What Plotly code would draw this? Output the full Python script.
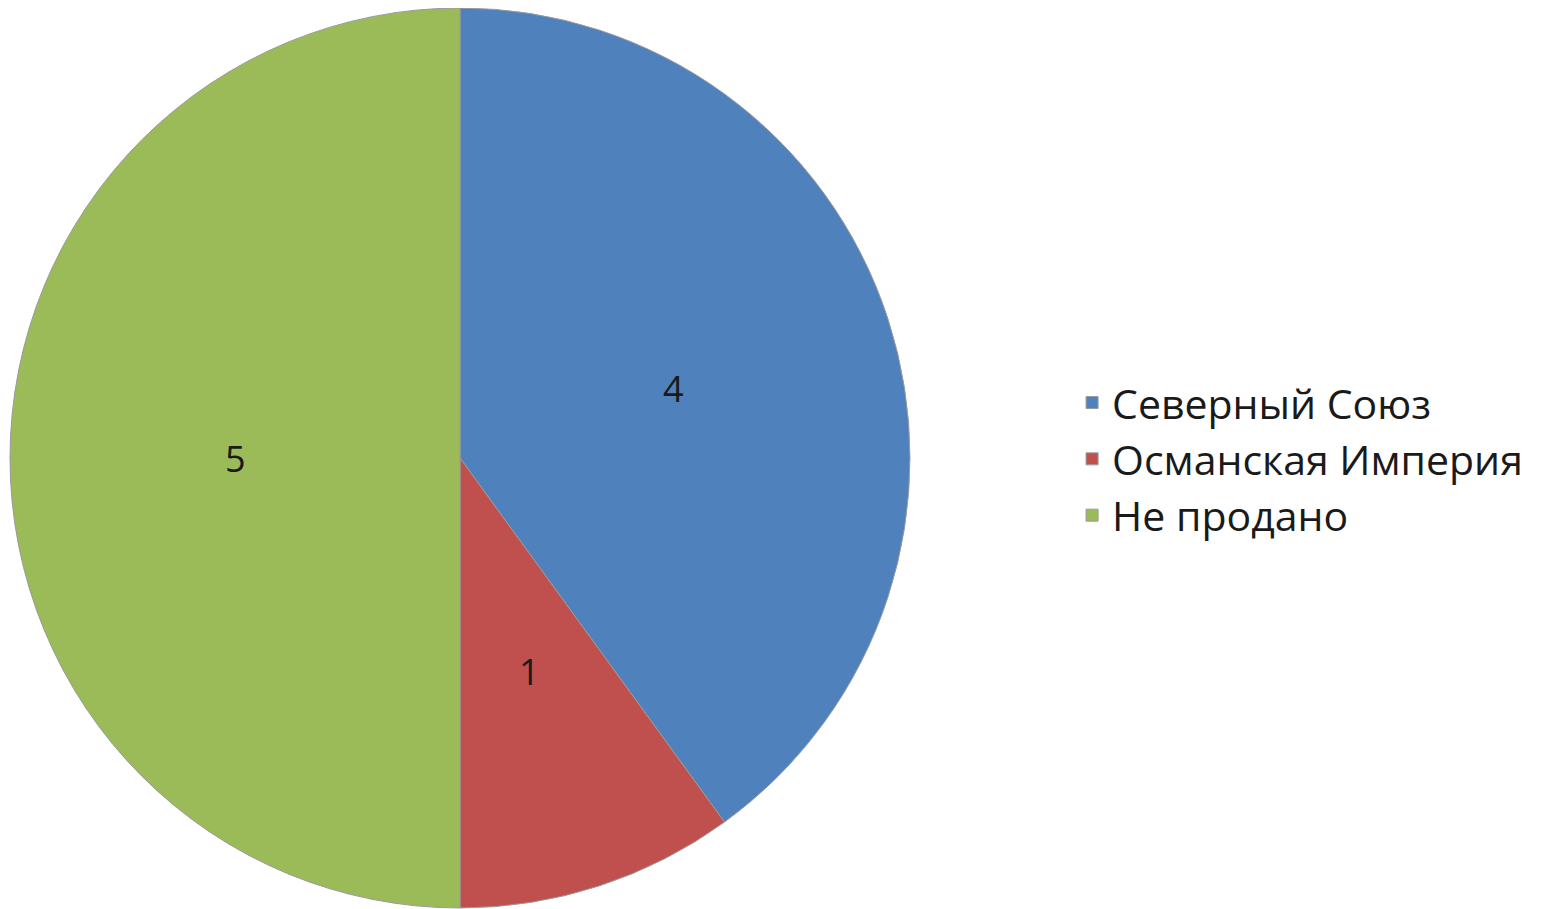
import math
import plotly.graph_objects as go

labels = ["Северный Союз", "Османская Империя", "Не продано"]
values = [4, 1, 5]
colors = ["#4F81BD", "#C0504D", "#9BBB59"]

W, H = 1550, 909
MT, MB = 0, 9
plot_h = H - MT - MB
dom_x = [2 / W, 902 / W]
cx_px = (dom_x[0] + dom_x[1]) / 2 * W
cy_px = plot_h / 2
R = 450
label_r = 0.5 * R

fig = go.Figure(go.Pie(
    labels=labels,
    values=values,
    sort=False,
    direction="clockwise",
    rotation=0,
    marker=dict(colors=colors, line=dict(color="#9a9a9a", width=1)),
    textinfo="none",
    domain=dict(x=dom_x, y=[0, 1]),
    hoverinfo="label+value",
))

# value labels placed at the middle angle of each slice
total = sum(values)
cum = 0
for v in values:
    mid = (cum + v / 2) / total * 2 * math.pi
    cum += v
    px = cx_px + label_r * math.sin(mid)
    py = cy_px - label_r * math.cos(mid)
    fig.add_annotation(
        x=px / W, y=1 - py / plot_h, xref="paper", yref="paper",
        text=str(v), showarrow=False,
        font=dict(family="Open Sans", size=36, color="#1a1a1a"),
        xanchor="center", yanchor="middle",
    )

fig.update_layout(
    width=W, height=H,
    margin=dict(l=0, r=0, t=MT, b=MB),
    paper_bgcolor="white",
    plot_bgcolor="white",
    legend=dict(
        x=0.6865, y=0.499, xanchor="left", yanchor="middle",
        font=dict(family="Open Sans", size=41, color="#1a1a1a"),
        itemwidth=30,
        tracegroupgap=0,
    ),
)

fig.write_html("out.html")
